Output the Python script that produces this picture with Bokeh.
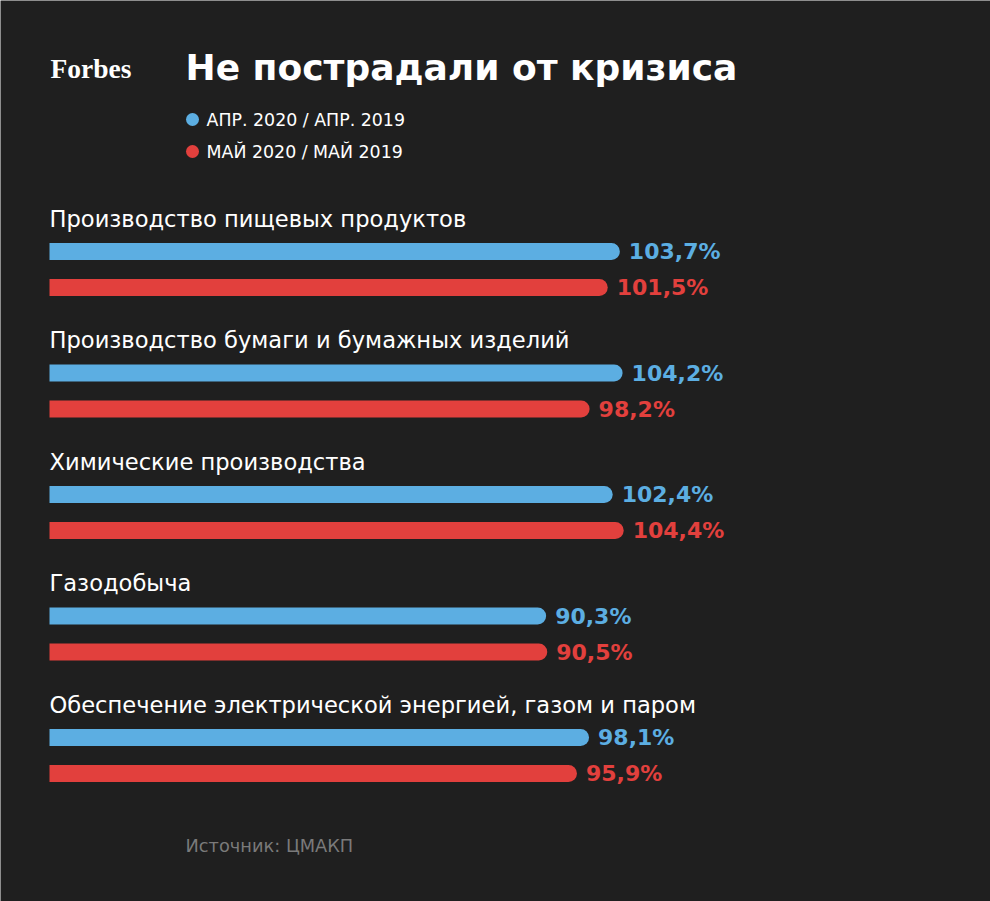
from bokeh.plotting import figure
from bokeh.models import Range1d, ColumnDataSource
from bokeh.embed import file_html
from bokeh.resources import INLINE
from bokeh.core.properties import value

categories = [
    "Производство пищевых продуктов",
    "Производство бумаги и бумажных изделий",
    "Химические производства",
    "Газодобыча",
    "Обеспечение электрической энергией, газом и паром",
]
apr_values = [103.7, 104.2, 102.4, 90.3, 98.1]
may_values = [101.5, 98.2, 104.4, 90.5, 95.9]
series_names = ["АПР. 2020 / АПР. 2019", "МАЙ 2020 / МАЙ 2019"]
title_text = "Не пострадали от кризиса"
source_text = "Источник: ЦМАКП"

BG = "#1f1f1f"
BLUE = "#5caee2"
RED = "#e2403d"
FONT = "DejaVu Sans"

X0 = 49.0      # page px of value 0
SCALE = 5.5    # px per percent


def px2x(px):
    return (px - X0) / SCALE


p = figure(width=990, height=901, output_backend="svg", toolbar_location=None,
           x_range=Range1d(px2x(0), px2x(990)), y_range=Range1d(901, 0),
           min_border=0)
p.background_fill_color = BG
p.border_fill_color = BG
p.outline_line_color = None
p.xaxis.visible = False
p.yaxis.visible = False
p.xgrid.visible = False
p.ygrid.visible = False

step = 121.5
label_y = [218 + i * step for i in range(len(categories))]
blue_y = [y + 33 for y in label_y]
red_y = [y + 69 for y in label_y]


def fmt(v):
    return f"{v:.1f}%".replace(".", ",")


src_b = ColumnDataSource(dict(y=blue_y, v=apr_values, lab=[fmt(v) for v in apr_values],
                              lx=[v + 9 / SCALE for v in apr_values]))
src_r = ColumnDataSource(dict(y=red_y, v=may_values, lab=[fmt(v) for v in may_values],
                              lx=[v + 9 / SCALE for v in may_values]))

for src, col in ((src_b, BLUE), (src_r, RED)):
    p.hbar(y="y", left=0, right="v", height=17, source=src, fill_color=col,
           line_color=None, border_radius=(0, 9, 9, 0))
    p.text(x="lx", y="y", text="lab", source=src, text_color=col,
           text_font=value(FONT), text_font_style="bold", text_font_size="22px",
           text_baseline="middle", text_align="left")

p.text(x=[0.0] * len(categories), y=label_y, text=categories, text_color="#ffffff",
       text_font=value(FONT), text_font_size="22.6px", text_baseline="middle",
       text_align="left")

# title
p.text(x=[px2x(185)], y=[67], text=[title_text], text_color="#ffffff",
       text_font=value(FONT), text_font_style="bold", text_font_size="36px",
       text_baseline="middle", text_align="left")
# logo
p.text(x=[px2x(50)], y=[68], text=["Forbes"], text_color="#ffffff",
       text_font=value("Liberation Serif"), text_font_style="bold", text_font_size="27.5px",
       text_baseline="middle", text_align="left")
# legend
p.scatter(x=[px2x(192), px2x(192)], y=[119, 151], size=13, color=[BLUE, RED],
          line_color=None)
p.text(x=[px2x(206), px2x(206)], y=[119, 151], text=series_names, text_color="#ffffff",
       text_font=value(FONT), text_font_size="17.4px", text_baseline="middle",
       text_align="left")
# source
p.text(x=[px2x(185)], y=[845], text=[source_text], text_color="#7a7a7a",
       text_font=value(FONT), text_font_size="17.8px", text_baseline="middle",
       text_align="left")

open("out.html", "w").write(file_html(p, INLINE))
